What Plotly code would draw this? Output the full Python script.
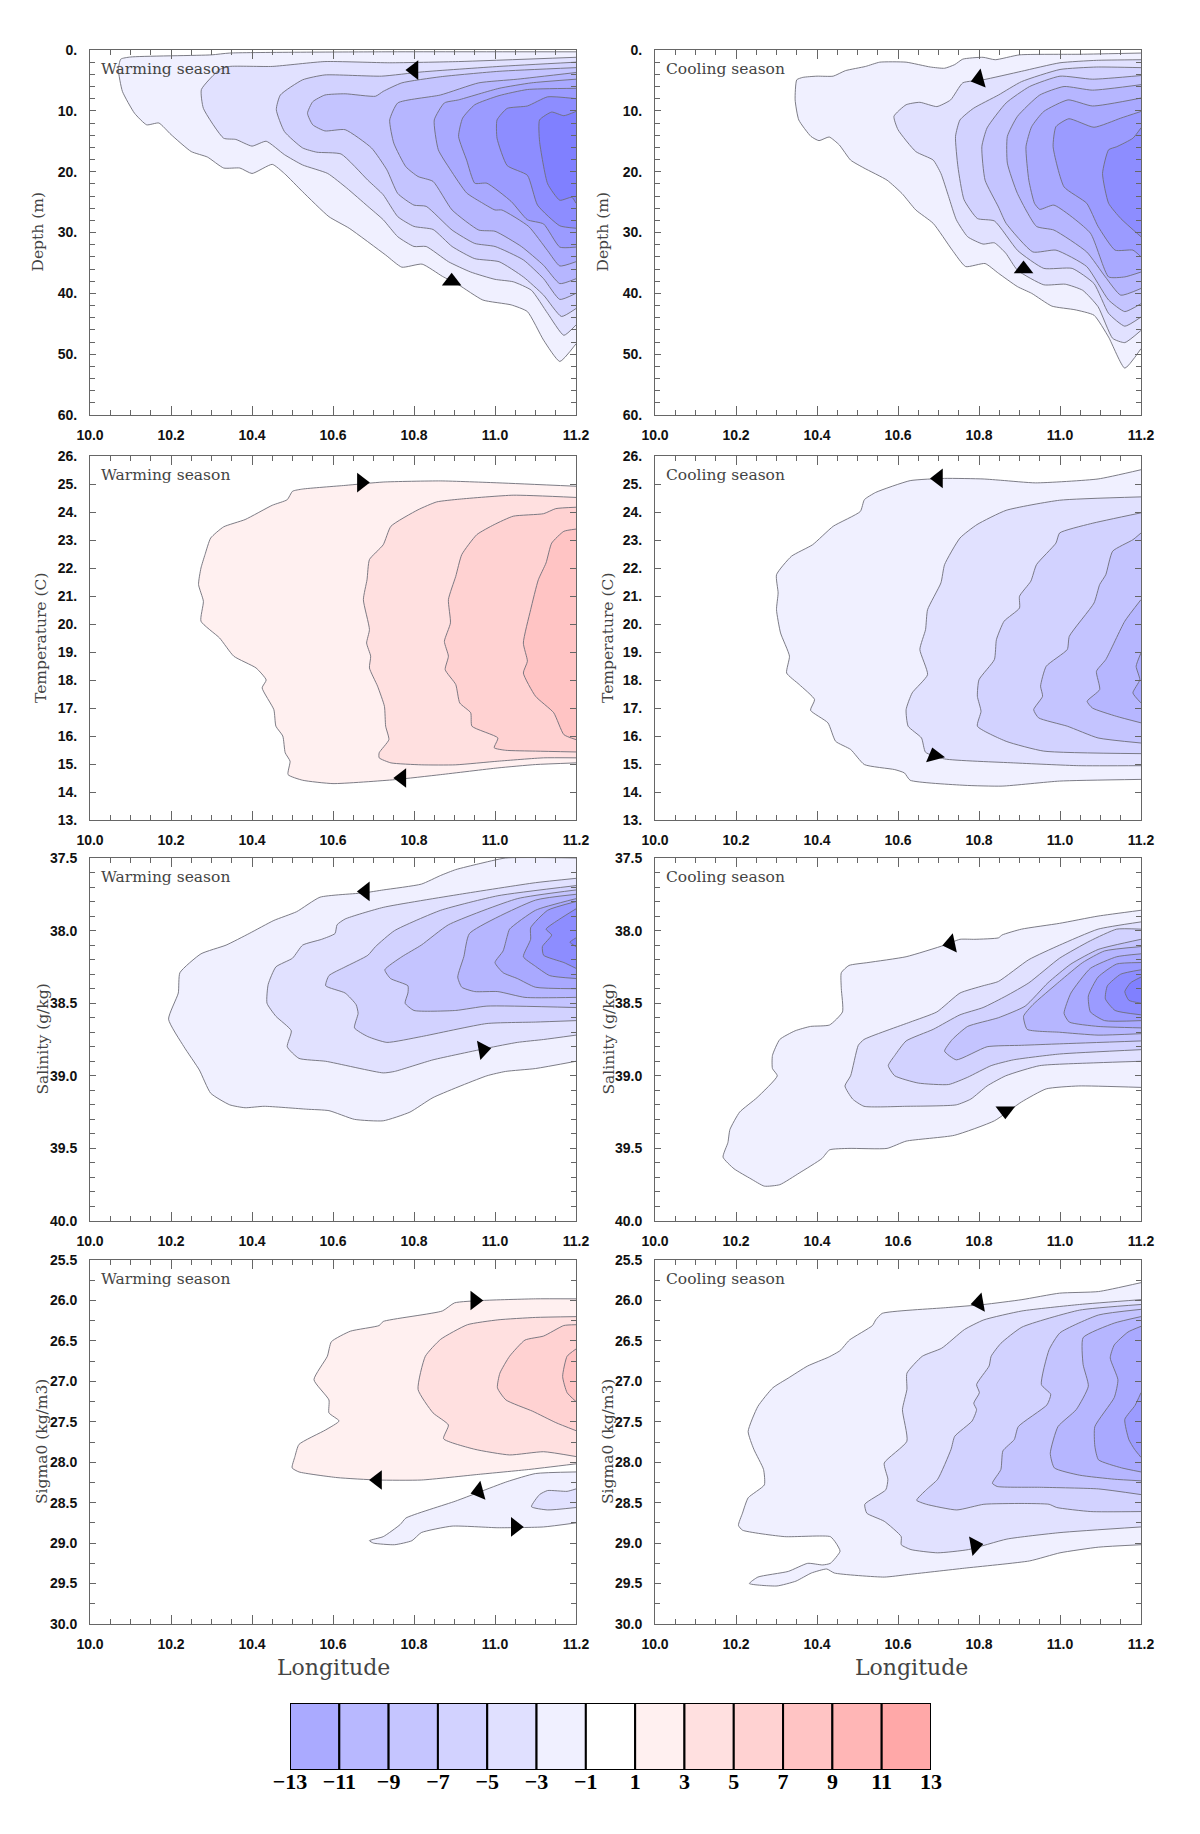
import plotly.graph_objects as go

# contour levels, (longitude, axis value), outer to inner
depth_w = [
    [(11.2,.3),(10.72,.3),(10.345,.5),(10.30,.8),(10.10,1.15),(10.076,1.5),(10.07,3.2),(10.08,6.8),(10.11,10.4),(10.14,12.3),(10.17,12.0),(10.20,13.9),(10.25,16.7),(10.29,17.6),(10.33,19.4),(10.37,19.4),(10.40,20.3),(10.45,18.8),(10.48,20.3),(10.525,23.3),(10.59,27.4),(10.64,29.3),(10.73,33.7),(10.77,35.7),(10.82,35.2),(10.87,37.2),(10.91,38.6),(10.97,41.1),(11.04,41.9),(11.08,43.0),(11.12,47.7),(11.16,51.2),(11.2,48.3)],
    [(11.2,1.2),(10.91,1.9),(10.74,2.1),(10.58,1.9),(10.45,2.7),(10.345,2.7),(10.32,3.2),(10.275,6.5),(10.28,9.6),(10.33,14.5),(10.36,14.7),(10.40,15.8),(10.435,15.0),(10.48,17.2),(10.525,18.9),(10.587,20.3),(10.634,22.7),(10.686,25.7),(10.724,27.9),(10.76,30.7),(10.80,32.3),(10.83,32.3),(10.885,34.8),(10.94,36.5),(11.0,37.7),(11.045,38.1),(11.09,39.5),(11.13,43.3),(11.17,46.9),(11.2,45.2)],
    [(11.2,2.0),(11.01,2.7),(10.82,3.6),(10.72,4.3),(10.58,4.1),(10.525,4.9),(10.47,7.4),(10.46,9.8),(10.48,13.4),(10.525,16.1),(10.56,16.8),(10.62,17.1),(10.686,21.4),(10.724,23.8),(10.76,27.4),(10.80,29.0),(10.847,29.5),(10.894,32.3),(10.95,34.3),(11.01,34.8),(11.07,37.3),(11.12,40.3),(11.164,43.8),(11.2,42.5)],
    [(11.2,2.9),(11.01,3.5),(10.865,4.4),(10.77,5.4),(10.724,6.8),(10.705,7.6),(10.63,7.2),(10.58,7.4),(10.55,8.5),(10.537,10.4),(10.55,12.3),(10.58,13.3),(10.63,13.1),(10.695,16.1),(10.733,19.7),(10.76,23.6),(10.80,25.5),(10.83,25.7),(10.894,29.6),(10.95,31.8),(11.0,32.3),(11.07,34.5),(11.12,37.6),(11.16,41.0),(11.2,40.0)],
    [(11.2,3.7),(11.055,4.8),(10.96,5.4),(10.865,7.4),(10.76,8.7),(10.74,11.5),(10.75,15.3),(10.78,19.2),(10.81,20.8),(10.847,21.6),(10.894,26.3),(10.96,29.6),(11.0,29.8),(11.065,32.3),(11.12,35.4),(11.16,38.4),(11.2,37.6)],
    [(11.2,4.8),(11.09,5.4),(11.01,6.3),(10.91,8.2),(10.875,8.7),(10.85,11.5),(10.86,16.4),(10.89,19.7),(10.93,23.5),(10.97,25.2),(11.0,26.3),(11.017,26.3),(11.083,29.0),(11.13,33.0),(11.16,35.5),(11.2,34.8)],
    [(11.2,6.3),(11.08,6.5),(11.01,7.5),(10.95,9.0),(10.92,11.2),(10.91,14.2),(10.93,18.1),(10.95,21.9),(10.98,21.9),(11.04,24.9),(11.08,27.9),(11.12,28.6),(11.16,32.4),(11.2,32.4)],
    [(11.2,8.0),(11.13,7.7),(11.08,9.2),(11.03,9.6),(11.005,11.5),(11.005,14.5),(11.03,19),(11.08,20.6),(11.105,25.5),(11.16,28.9),(11.2,29.3)],
    [(11.2,10.1),(11.17,10.8),(11.14,10.2),(11.11,11.5),(11.11,15),(11.13,22),(11.16,24.7),(11.19,24.2),(11.2,25.2)],
]
depth_c = [
    [(11.2,.5),(11.05,.7),(10.90,.8),(10.84,1.6),(10.81,1.2),(10.76,1.5),(10.74,2.4),(10.715,3.0),(10.68,2.8),(10.62,2.0),(10.555,2.0),(10.52,2.7),(10.47,3.4),(10.44,4.3),(10.40,4.3),(10.365,4.5),(10.35,4.9),(10.346,8.2),(10.355,11.5),(10.385,14.2),(10.405,14.9),(10.43,14.3),(10.455,15.6),(10.483,18.1),(10.516,19.4),(10.573,21.4),(10.61,23.6),(10.644,26.3),(10.687,28.5),(10.734,32.9),(10.767,35.6),(10.815,35.1),(10.848,36.7),(10.895,38.9),(10.93,40.0),(10.98,42.1),(11.037,42.7),(11.084,43.6),(11.12,47.2),(11.16,52.3),(11.2,49.1)],
    [(11.2,1.6),(11.09,1.7),(11.0,2.1),(10.905,3.5),(10.81,4.9),(10.76,5.4),(10.73,8.2),(10.696,9.3),(10.654,8.6),(10.62,9.0),(10.59,10.9),(10.60,13.1),(10.644,16.7),(10.687,18.1),(10.706,20.3),(10.725,24.1),(10.744,27.9),(10.772,30.7),(10.81,31.9),(10.838,31.7),(10.866,33.4),(10.895,36.2),(10.96,38.6),(11.013,38.5),(11.056,39.5),(11.094,42.2),(11.13,47.4),(11.16,48.1),(11.2,46.1)],
    [(11.2,2.9),(11.09,2.8),(11.0,3.2),(10.905,5.2),(10.848,7.4),(10.786,9.6),(10.753,11.5),(10.742,14.2),(10.748,19.2),(10.763,24.6),(10.796,27.7),(10.838,28.1),(10.896,33.0),(10.96,35.9),(11.03,35.9),(11.084,38.4),(11.12,43.3),(11.16,45.4),(11.2,43.9)],
    [(11.2,4.2),(11.08,4.8),(11.0,4.3),(10.925,6.0),(10.867,8.7),(10.82,12.8),(10.807,15.9),(10.815,21.4),(10.848,25.8),(10.867,28.5),(10.933,33.2),(10.99,32.9),(11.066,35.6),(11.12,41.1),(11.16,43.0),(11.2,41.7)],
    [(11.2,5.7),(11.08,6.6),(11.01,6.0),(10.95,7.4),(10.895,10.9),(10.87,14.2),(10.87,18.6),(10.895,23.6),(10.942,29.0),(10.985,29.6),(11.066,33.2),(11.112,37.3),(11.15,40.3),(11.2,39.2)],
    [(11.2,7.9),(11.08,9.2),(11.02,8.2),(10.96,10.1),(10.93,12.6),(10.916,15.9),(10.923,21.4),(10.937,25.2),(10.95,26.2),(10.985,25.5),(11.075,30.1),(11.12,37.3),(11.16,37.3),(11.2,36.5)],
    [(11.2,10.1),(11.15,11.2),(11.084,12.7),(11.022,11.3),(10.99,12.6),(10.983,15.9),(11.01,22.5),(11.066,25.2),(11.094,29.0),(11.136,32.9),(11.18,32.9),(11.2,34.0)],
    [(11.2,12.8),(11.18,14.5),(11.14,15.9),(11.12,16.4),(11.105,20.3),(11.12,25.2),(11.15,27.7),(11.2,30.7)],
]
temp_w = [
    [(11.2,24.92),(11.01,25.04),(10.866,25.11),(10.724,25.07),(10.63,24.95),(10.525,24.82),(10.50,24.74),(10.487,24.44),(10.45,24.24),(10.383,23.73),(10.33,23.47),(10.298,23.07),(10.284,22.48),(10.274,22.0),(10.268,21.41),(10.28,20.81),(10.274,20.1),(10.32,19.5),(10.355,18.85),(10.41,18.43),(10.435,18.0),(10.425,17.72),(10.454,16.94),(10.459,16.35),(10.476,16.0),(10.482,15.4),(10.494,15.1),(10.489,14.62),(10.525,14.42),(10.60,14.3),(10.752,14.44),(10.866,14.62),(11.007,14.86),(11.10,14.98),(11.2,15.04)],
    [(11.2,24.52),(11.045,24.6),(10.913,24.46),(10.856,24.36),(10.81,24.08),(10.743,23.49),(10.724,22.83),(10.69,22.3),(10.684,21.58),(10.675,20.87),(10.69,19.8),(10.683,19.32),(10.693,18.85),(10.69,18.43),(10.71,17.78),(10.727,17.06),(10.73,16.35),(10.738,15.87),(10.714,15.4),(10.714,15.22),(10.743,15.04),(10.818,14.97),(10.903,14.97),(11.007,15.1),(11.12,15.22),(11.2,15.22)],
    [(11.2,24.17),(11.15,24.12),(11.12,23.94),(11.045,23.85),(10.998,23.55),(10.955,23.19),(10.918,22.48),(10.903,21.7),(10.885,20.87),(10.89,20.04),(10.875,19.38),(10.885,18.85),(10.877,18.37),(10.903,17.84),(10.913,17.18),(10.94,16.83),(10.943,16.35),(11.007,15.93),(10.998,15.58),(11.026,15.49),(11.10,15.46),(11.2,15.43)],
    [(11.2,23.39),(11.17,23.31),(11.14,22.89),(11.126,22.18),(11.107,21.58),(11.088,20.51),(11.07,19.32),(11.08,18.67),(11.07,18.25),(11.10,17.42),(11.145,16.83),(11.17,16.05),(11.2,15.87)],
]
temp_c = [
    [(11.2,25.51),(11.094,25.18),(10.94,25.04),(10.857,25.13),(10.81,25.18),(10.715,25.2),(10.63,25.12),(10.545,24.7),(10.517,24.44),(10.507,24.02),(10.44,23.49),(10.389,22.83),(10.337,22.42),(10.30,21.76),(10.304,21.11),(10.30,20.51),(10.31,19.68),(10.332,18.85),(10.325,18.25),(10.356,17.84),(10.394,17.3),(10.384,16.92),(10.427,16.47),(10.446,15.81),(10.483,15.52),(10.517,14.98),(10.592,14.8),(10.616,14.68),(10.63,14.42),(10.763,14.24),(10.857,14.21),(10.999,14.39),(11.2,14.45)],
    [(11.2,24.54),(10.999,24.42),(10.867,24.06),(10.795,23.55),(10.753,23.07),(10.715,22.12),(10.706,21.47),(10.673,20.51),(10.668,19.8),(10.654,19.09),(10.673,18.19),(10.635,17.54),(10.62,16.94),(10.625,16.35),(10.658,15.93),(10.668,15.42),(10.715,15.18),(10.885,15.04),(11.046,14.94),(11.2,14.94)],
    [(11.2,23.97),(11.075,23.58),(10.999,23.25),(10.99,22.89),(10.942,22.12),(10.928,21.53),(10.9,20.99),(10.9,20.57),(10.862,20.1),(10.843,19.44),(10.838,18.73),(10.80,18.01),(10.796,17.42),(10.805,16.88),(10.796,16.35),(10.867,15.81),(10.96,15.46),(11.2,15.37)],
    [(11.2,23.25),(11.18,23.01),(11.13,22.6),(11.113,21.76),(11.098,21.41),(11.084,20.75),(11.023,19.56),(11.018,19.09),(10.966,18.49),(10.952,17.78),(10.957,17.42),(10.935,16.94),(10.947,16.65),(11.018,16.35),(11.094,15.93),(11.2,15.75)],
    [(11.2,20.87),(11.16,20.1),(11.113,18.73),(11.09,18.31),(11.098,17.66),(11.067,17.24),(11.08,17.0),(11.14,16.7),(11.2,16.47)],
    [(11.2,18.97),(11.188,18.49),(11.197,18.01),(11.18,17.54),(11.2,17.18)],
]
sal_w = [
    [(11.2,37.5),(11.026,37.5),(10.96,37.54),(10.903,37.58),(10.866,37.62),(10.818,37.68),(10.724,37.72),(10.677,37.74),(10.568,37.77),(10.51,37.87),(10.454,37.93),(10.393,38.02),(10.336,38.1),(10.274,38.16),(10.222,38.29),(10.218,38.43),(10.194,38.61),(10.232,38.8),(10.27,38.96),(10.298,39.12),(10.345,39.2),(10.383,39.22),(10.43,39.21),(10.535,39.23),(10.59,39.24),(10.653,39.3),(10.724,39.31),(10.79,39.25),(10.847,39.15),(10.98,39.0),(11.026,38.97),(11.10,38.95),(11.2,38.9)],
    [(11.2,37.64),(11.10,37.67),(10.913,37.75),(10.724,37.84),(10.63,37.92),(10.61,37.96),(10.605,38.02),(10.572,38.06),(10.525,38.1),(10.50,38.19),(10.459,38.25),(10.44,38.37),(10.437,38.5),(10.459,38.59),(10.497,38.69),(10.487,38.8),(10.516,38.88),(10.582,38.9),(10.724,38.98),(10.752,38.97),(10.847,38.89),(10.98,38.81),(11.055,38.77),(11.12,38.75),(11.2,38.72)],
    [(11.2,37.69),(11.007,37.76),(10.866,37.86),(10.752,38.0),(10.705,38.11),(10.686,38.17),(10.63,38.25),(10.59,38.31),(10.582,38.38),(10.63,38.43),(10.657,38.51),(10.662,38.57),(10.653,38.67),(10.686,38.73),(10.733,38.77),(10.818,38.73),(10.98,38.64),(11.10,38.63),(11.2,38.62)],
    [(11.2,37.72),(11.055,37.78),(10.885,37.96),(10.818,38.1),(10.77,38.18),(10.728,38.27),(10.742,38.33),(10.785,38.38),(10.785,38.43),(10.778,38.5),(10.8,38.55),(10.903,38.55),(10.98,38.52),(11.2,38.53)],
    [(11.2,37.75),(11.10,37.79),(10.937,38.02),(10.923,38.18),(10.908,38.32),(10.918,38.39),(10.95,38.42),(11.007,38.42),(11.074,38.46),(11.2,38.46)],
    [(11.2,37.78),(11.10,37.86),(11.036,37.99),(11.03,38.04),(11.02,38.14),(11.0,38.22),(11.02,38.29),(11.055,38.33),(11.10,38.39),(11.2,38.4)],
    [(11.2,37.8),(11.13,37.86),(11.088,37.98),(11.088,38.06),(11.07,38.18),(11.097,38.24),(11.135,38.31),(11.2,38.33)],
    [(11.2,37.85),(11.16,37.92),(11.126,37.99),(11.14,38.03),(11.117,38.11),(11.12,38.17),(11.17,38.22),(11.2,38.26)],
    [(11.2,38.05),(11.185,38.08),(11.2,38.11)],
]
sal_c = [
    [(11.2,37.86),(11.094,37.9),(10.999,37.95),(10.905,37.99),(10.857,38.03),(10.848,38.05),(10.79,38.06),(10.753,38.06),(10.715,38.1),(10.62,38.18),(10.526,38.22),(10.479,38.24),(10.46,38.29),(10.46,38.4),(10.463,38.56),(10.431,38.65),(10.384,38.66),(10.346,38.69),(10.308,38.75),(10.29,38.86),(10.29,38.95),(10.302,39.0),(10.252,39.15),(10.209,39.25),(10.185,39.37),(10.18,39.46),(10.168,39.56),(10.195,39.64),(10.237,39.71),(10.27,39.76),(10.308,39.75),(10.356,39.67),(10.412,39.57),(10.431,39.51),(10.479,39.5),(10.573,39.5),(10.62,39.45),(10.739,39.41),(10.838,39.31),(10.905,39.18),(10.966,39.09),(11.046,39.07),(11.2,39.08)],
    [(11.2,37.94),(11.094,37.99),(10.999,38.1),(10.923,38.2),(10.848,38.35),(10.81,38.38),(10.753,38.43),(10.696,38.56),(10.63,38.63),(10.516,38.75),(10.502,38.79),(10.483,39.0),(10.469,39.07),(10.488,39.16),(10.516,39.21),(10.62,39.21),(10.744,39.2),(10.78,39.16),(10.82,39.07),(10.866,39.0),(10.95,38.93),(11.094,38.91),(11.2,38.9)],
    [(11.2,37.99),(11.14,37.99),(11.075,38.07),(10.999,38.19),(10.923,38.36),(10.867,38.45),(10.81,38.53),(10.753,38.58),(10.687,38.68),(10.62,38.76),(10.592,38.86),(10.576,38.93),(10.592,39.0),(10.65,39.05),(10.725,39.06),(10.772,39.01),(10.83,38.93),(10.885,38.89),(10.999,38.85),(11.2,38.82)],
    [(11.2,38.06),(11.094,38.13),(11.027,38.23),(10.97,38.36),(10.914,38.52),(10.848,38.6),(10.772,38.66),(10.734,38.75),(10.715,38.83),(10.744,38.89),(10.82,38.8),(10.905,38.79),(10.999,38.78),(11.2,38.76)],
    [(11.2,38.11),(11.11,38.14),(11.056,38.22),(10.999,38.35),(10.933,38.51),(10.91,38.59),(10.919,38.68),(10.999,38.7),(11.094,38.72),(11.2,38.71)],
    [(11.2,38.16),(11.14,38.18),(11.075,38.26),(11.027,38.43),(11.01,38.57),(11.023,38.63),(11.094,38.66),(11.2,38.67)],
    [(11.2,38.22),(11.14,38.23),(11.094,38.32),(11.07,38.45),(11.075,38.56),(11.11,38.62),(11.2,38.62)],
    [(11.2,38.27),(11.15,38.3),(11.117,38.38),(11.112,38.47),(11.136,38.55),(11.2,38.58)],
    [(11.2,38.32),(11.174,38.36),(11.16,38.42),(11.17,38.48),(11.2,38.5)],
]
sigma_w_red = [
    [(11.2,25.98),(11.10,25.98),(10.97,26.0),(10.90,26.03),(10.87,26.13),(10.724,26.26),(10.714,26.31),(10.643,26.38),(10.596,26.51),(10.586,26.69),(10.553,26.98),(10.59,27.23),(10.59,27.39),(10.615,27.49),(10.582,27.6),(10.516,27.78),(10.506,27.93),(10.499,28.07),(10.516,28.12),(10.61,28.19),(10.71,28.22),(10.818,28.22),(10.96,28.15),(11.083,28.09),(11.2,28.02)],
    [(11.2,26.2),(11.10,26.21),(11.007,26.24),(10.932,26.3),(10.866,26.48),(10.828,26.69),(10.81,27.1),(10.847,27.39),(10.885,27.54),(10.873,27.71),(10.95,27.84),(11.036,27.91),(11.12,27.87),(11.2,27.93)],
    [(11.2,26.3),(11.17,26.31),(11.12,26.44),(11.074,26.49),(11.036,26.69),(11.012,26.9),(11.006,27.08),(11.027,27.23),(11.093,27.37),(11.15,27.51),(11.2,27.61)],
    [(11.2,26.6),(11.178,26.69),(11.167,26.94),(11.178,27.14),(11.2,27.25)],
]
sigma_w_blue = [
    [(11.2,28.12),(11.10,28.14),(11.03,28.24),(10.903,28.48),(10.78,28.69),(10.766,28.77),(10.724,28.92),(10.69,28.97),(10.70,29.0),(10.752,29.02),(10.795,28.97),(10.818,28.87),(10.894,28.79),(11.007,28.81),(11.12,28.8),(11.2,28.75)],
    [(11.2,28.33),(11.178,28.36),(11.13,28.35),(11.11,28.4),(11.09,28.55),(11.13,28.59),(11.2,28.56)],
]
sigma_c = [
    [(11.2,25.78),(11.095,25.89),(10.999,25.91),(10.906,25.99),(10.812,26.05),(10.717,26.09),(10.561,26.16),(10.545,26.24),(10.537,26.31),(10.48,26.49),(10.457,26.62),(10.429,26.7),(10.377,26.81),(10.329,26.96),(10.291,27.08),(10.254,27.31),(10.23,27.62),(10.244,27.84),(10.268,28.09),(10.27,28.28),(10.23,28.44),(10.216,28.63),(10.206,28.78),(10.216,28.84),(10.32,28.92),(10.433,28.92),(10.447,29.0),(10.457,29.1),(10.433,29.25),(10.414,29.27),(10.377,29.25),(10.329,29.35),(10.254,29.42),(10.233,29.5),(10.301,29.53),(10.348,29.47),(10.386,29.37),(10.424,29.32),(10.443,29.37),(10.566,29.42),(10.622,29.39),(10.764,29.31),(10.925,29.22),(11.0,29.12),(11.095,29.05),(11.2,29.02)],
    [(11.2,25.99),(11.048,26.05),(10.906,26.13),(10.812,26.24),(10.764,26.36),(10.708,26.59),(10.66,26.69),(10.622,26.9),(10.622,27.1),(10.611,27.35),(10.622,27.74),(10.566,28.01),(10.575,28.21),(10.57,28.34),(10.518,28.52),(10.523,28.63),(10.566,28.73),(10.608,28.92),(10.608,29.02),(10.632,29.08),(10.698,29.12),(10.774,29.08),(10.869,28.95),(11.0,28.87),(11.2,28.8)],
    [(11.2,26.05),(11.048,26.12),(10.906,26.33),(10.854,26.53),(10.83,26.69),(10.825,26.81),(10.794,27.04),(10.801,27.14),(10.787,27.27),(10.794,27.35),(10.783,27.49),(10.74,27.68),(10.731,27.84),(10.698,28.21),(10.67,28.34),(10.646,28.47),(10.67,28.52),(10.745,28.59),(10.812,28.52),(10.906,28.51),(10.973,28.52),(10.992,28.56),(11.076,28.61),(11.2,28.61)],
    [(11.2,26.11),(11.095,26.18),(11.0,26.4),(10.973,26.61),(10.954,27.04),(10.977,27.16),(10.968,27.29),(10.897,27.56),(10.887,27.72),(10.859,27.86),(10.854,28.09),(10.833,28.26),(10.845,28.3),(10.954,28.31),(11.095,28.33),(11.2,28.4)],
    [(11.2,26.2),(11.134,26.28),(11.057,26.46),(11.057,26.79),(11.07,27.06),(11.04,27.35),(10.995,27.56),(10.976,27.89),(10.986,28.07),(11.048,28.16),(11.134,28.21),(11.2,28.23)],
    [(11.2,26.32),(11.168,26.39),(11.134,26.55),(11.124,26.71),(11.143,26.98),(11.134,27.2),(11.086,27.56),(11.086,27.8),(11.095,27.97),(11.152,28.07),(11.2,28.12)],
    [(11.2,27.14),(11.185,27.3),(11.16,27.47),(11.17,27.72),(11.184,27.84),(11.2,27.94)],
]

# colour steps going away from zero
blues = ['#F0F0FF', '#E1E1FF', '#D2D2FF', '#C4C4FF', '#B6B6FF', '#A9A9FF', '#9B9BFF', '#8D8DFF', '#8080FF']
reds = ['#FFF0F0', '#FFE0E0', '#FFD2D2', '#FFC4C4', '#FFB6B6', '#FFA8A8']

# arrows on the contours: lon, value, symbol, rotation
arrows_depth_w = [(10.80, 3.3, 'triangle-left', 0), (10.893, 38.0, 'triangle-up', 0)]
arrows_depth_c = [(10.80, 4.8, 'triangle-left', -15), (10.91, 36.0, 'triangle-up', 0)]
arrows_temp_w = [(10.67, 25.05, 'triangle-right', 0), (10.77, 14.5, 'triangle-left', 0)]
arrows_temp_c = [(10.70, 25.2, 'triangle-left', 0), (10.69, 15.3, 'triangle-up', -15)]
arrows_sal_w = [(10.68, 37.73, 'triangle-left', 0), (10.97, 38.82, 'triangle-right', -10)]
arrows_sal_c = [(10.73, 38.09, 'triangle-left', -12), (10.865, 39.24, 'triangle-down', 0)]
arrows_sigma_w = [(10.95, 26.0, 'triangle-right', 0), (10.71, 28.22, 'triangle-left', 0), (10.96, 28.36, 'triangle-left', -15), (11.05, 28.8, 'triangle-right', 0)]
arrows_sigma_c = [(10.80, 26.03, 'triangle-left', -10), (10.79, 29.03, 'triangle-right', -10)]

lon_ticks = [10.0, 10.2, 10.4, 10.6, 10.8, 11.0, 11.2]
lon_labels = ['10.0', '10.2', '10.4', '10.6', '10.8', '11.0', '11.2']
depth_ticks = [0, 10, 20, 30, 40, 50, 60]
depth_labels = ['0.', '10.', '20.', '30.', '40.', '50.', '60.']
temp_ticks = list(range(13, 27))
temp_labels = [f'{t}.' for t in temp_ticks]
sal_ticks = [37.5, 38.0, 38.5, 39.0, 39.5, 40.0]
sal_labels = ['37.5', '38.0', '38.5', '39.0', '39.5', '40.0']
sigma_ticks = [25.5, 26.0, 26.5, 27.0, 27.5, 28.0, 28.5, 29.0, 29.5, 30.0]
sigma_labels = ['25.5', '26.0', '26.5', '27.0', '27.5', '28.0', '28.5', '29.0', '29.5', '30.0']

cbar_levels = [-12, -10, -8, -6, -4, -2, 0, 2, 4, 6, 8, 10, 12]
cbar_colors = ['#AAAAFF', '#B8B8FF', '#C5C5FF', '#D2D2FF', '#E0E0FF', '#F0F0FF', '#FFFFFF',
               '#FFF0F0', '#FFE0E0', '#FFD2D2', '#FFC4C4', '#FFB6B6', '#FFA8A8']
cbar_ticks = [-13, -11, -9, -7, -5, -3, -1, 1, 3, 5, 7, 9, 11, 13]
cbar_labels = ['−13', '−11', '−9', '−7', '−5', '−3', '−1', '1', '3', '5', '7', '9', '11', '13']

# the page keeps its 8 px body margin, so the figure is smaller and positions shift by it
PAGE = 8
W, H = 1200 - 2 * PAGE, 1834 - 2 * PAGE
COLS = [(90, 576), (655, 1141)]
ROWS = [(50, 415), (456, 820), (858, 1221), (1260, 1624)]
YTITLE_X = [[38, 603], [41, 608], [42, 608], [42, 608]]


def fx(px):
    return (px - PAGE) / W


def fy(px):
    return 1 - (px - PAGE) / H


panels = [
    (0, 0, depth_w, None, arrows_depth_w, 'Depth (m)', [60, 0], depth_ticks, depth_labels, 2),
    (0, 1, depth_c, None, arrows_depth_c, 'Depth (m)', [60, 0], depth_ticks, depth_labels, 2),
    (1, 0, None, temp_w, arrows_temp_w, 'Temperature (C)', [13, 26], temp_ticks, temp_labels, None),
    (1, 1, temp_c, None, arrows_temp_c, 'Temperature (C)', [13, 26], temp_ticks, temp_labels, None),
    (2, 0, sal_w, None, arrows_sal_w, 'Salinity (g/kg)', [40, 37.5], sal_ticks, sal_labels, 0.1),
    (2, 1, sal_c, None, arrows_sal_c, 'Salinity (g/kg)', [40, 37.5], sal_ticks, sal_labels, 0.1),
    (3, 0, sigma_w_blue, sigma_w_red, arrows_sigma_w, 'Sigma0 (kg/m3)', [30, 25.5], sigma_ticks, sigma_labels, 0.25),
    (3, 1, sigma_c, None, arrows_sigma_c, 'Sigma0 (kg/m3)', [30, 25.5], sigma_ticks, sigma_labels, 0.25),
]

TICK_FONT = dict(family='Liberation Sans', size=14, color='#111111', weight='bold')
LABEL_FONT = 'DejaVu Serif'
AXIS_GREY = '#666666'

fig = go.Figure()
layout = {}
notes = []


def add_levels(levels, colors, xname, yname):
    for pts, col in zip(levels, colors):
        lons, vals = zip(*pts)
        fig.add_trace(go.Scatter(
            x=lons, y=vals, xaxis=xname, yaxis=yname, mode='lines', fill='toself',
            fillcolor=col, line=dict(color='#6E6E78', width=0.9, shape='spline', smoothing=0.5),
            showlegend=False, hoverinfo='skip'))


for i, (row, col, cold, warm, arrows, ytitle, yrange, yticks, ylabels, yminor) in enumerate(panels, start=1):
    suffix = '' if i == 1 else str(i)
    xname, yname = f'x{suffix}', f'y{suffix}'
    if warm:
        add_levels(warm, reds, xname, yname)
    if cold:
        add_levels(cold, blues, xname, yname)
    for lon, val, sym, rot in arrows:
        fig.add_trace(go.Scatter(
            x=[lon], y=[val], xaxis=xname, yaxis=yname, mode='markers',
            marker=dict(symbol=sym, size=17, color='black', angle=rot, line=dict(width=0)),
            showlegend=False, hoverinfo='skip'))

    x0, x1 = COLS[col]
    y0, y1 = ROWS[row]
    layout[f'xaxis{suffix}'] = dict(
        domain=[fx(x0), fx(x1)], anchor=yname, range=[10, 11.2], tickvals=lon_ticks, ticktext=lon_labels,
        ticks='inside', ticklen=9, tickcolor=AXIS_GREY, tickwidth=1, showline=True, linecolor=AXIS_GREY,
        linewidth=1, mirror='ticks', showgrid=False, zeroline=False, tickfont=TICK_FONT, ticklabelstandoff=7,
        automargin=False,
        minor=dict(dtick=0.05, tick0=10, ticks='inside', ticklen=5, tickcolor=AXIS_GREY, tickwidth=1, showgrid=False))
    yaxis = dict(
        domain=[fy(y1), fy(y0)], anchor=xname, range=yrange, tickvals=yticks, ticktext=ylabels,
        ticks='inside', ticklen=6, tickcolor=AXIS_GREY, tickwidth=1, showline=True, linecolor=AXIS_GREY,
        linewidth=1, mirror='ticks', showgrid=False, zeroline=False, tickfont=TICK_FONT, ticklabelstandoff=9,
        automargin=False)
    if yminor:
        yaxis['minor'] = dict(dtick=yminor, tick0=yticks[0], ticks='inside', ticklen=5, tickcolor=AXIS_GREY,
                              tickwidth=1, showgrid=False)
    layout[f'yaxis{suffix}'] = yaxis

    # season label and the rotated axis title
    notes.append(dict(text='Warming season' if col == 0 else 'Cooling season', xref=f'{xname} domain',
                      yref=f'{yname} domain', x=0.018, y=0.948, xanchor='left', yanchor='middle', showarrow=False,
                      font=dict(family=LABEL_FONT, size=15.5, color='#444444')))
    notes.append(dict(text=ytitle, xref='paper', yref=f'{yname} domain', x=fx(YTITLE_X[row][col]), y=0.5,
                      xanchor='center', yanchor='middle', textangle=-90, showarrow=False,
                      font=dict(family=LABEL_FONT, size=15.5, color='#444444')))

for px in (333, 911):
    notes.append(dict(text='Longitude', xref='paper', yref='paper', x=fx(px), y=fy(1667), xanchor='center',
                      yanchor='middle', showarrow=False, font=dict(family=LABEL_FONT, size=22, color='#444444')))

# colour bar
fig.add_trace(go.Bar(x=cbar_levels, y=[1] * len(cbar_levels), width=2, xaxis='x9', yaxis='y9',
                     marker=dict(color=cbar_colors, line=dict(color='black', width=2)),
                     showlegend=False, hoverinfo='skip'))
layout['xaxis9'] = dict(domain=[fx(290), fx(931)], anchor='y9', range=[-13, 13], tickvals=cbar_ticks,
                        ticktext=cbar_labels, ticks='', showgrid=False, zeroline=False, showline=False,
                        automargin=False, ticklabelstandoff=-4,
                        tickfont=dict(family='Liberation Serif', size=22, color='black', weight='bold'))
layout['yaxis9'] = dict(domain=[fy(1770), fy(1703)], anchor='x9', range=[0, 1], showticklabels=False,
                        ticks='', showgrid=False, zeroline=False, showline=False, automargin=False)

fig.update_layout(width=W, height=H, margin=dict(l=0, r=0, t=0, b=0), paper_bgcolor='white',
                  plot_bgcolor='white', annotations=notes, **layout)
fig.write_html("out.html")
